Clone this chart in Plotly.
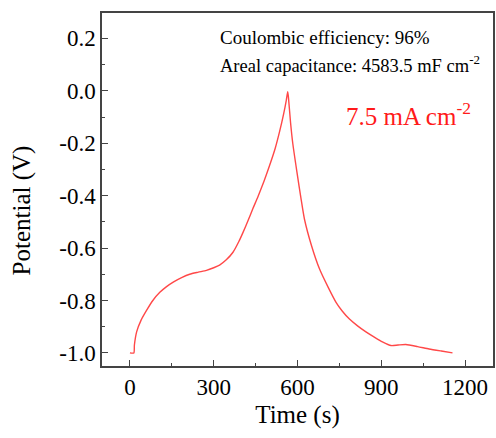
import plotly.graph_objects as go

time_s = [0, 14, 16, 24, 40, 60, 82, 107, 130, 155, 185, 214, 245, 274, 300, 321, 345, 369,
          390, 405, 423, 440, 458, 480, 500, 520, 536, 550, 560, 565,
          568, 575, 583, 598, 613, 625, 650, 679, 710, 738, 760, 786, 815, 845, 875, 904, 935,
          960, 988, 1030, 1071, 1115, 1155]
potential_v = [-1.0, -1.0, -0.97, -0.92, -0.875, -0.837, -0.80, -0.769, -0.748, -0.73, -0.713,
               -0.700, -0.692, -0.685, -0.675, -0.665, -0.645, -0.616,
               -0.575, -0.54, -0.495, -0.45, -0.405, -0.345, -0.285, -0.22, -0.155,
               -0.09, -0.035, -0.003,
               -0.03, -0.12, -0.2, -0.31, -0.414, -0.49, -0.59, -0.68, -0.75, -0.807, -0.84,
               -0.871, -0.897, -0.92, -0.94, -0.958, -0.972,
               -0.970, -0.968, -0.976, -0.985, -0.993, -1.0]

x_ticks = [0, 300, 600, 900, 1200]
y_ticks = [0.2, 0.0, -0.2, -0.4, -0.6, -0.8, -1.0]
y_tick_labels = ["0.2", "0.0", "-0.2", "-0.4", "-0.6", "-0.8", "-1.0"]

FONT = "Liberation Serif, Times New Roman, serif"
AX = "#444444"

X0, X1 = -100, 1300
Y0, Y1 = -1.05, 0.297


def px_to_x(px):
    return X0 + (px - 102) / 393 * (X1 - X0)


def py_to_y(py):
    return Y1 - (py - 13) / 353 * (Y1 - Y0)


fig = go.Figure()
fig.add_trace(go.Scatter(x=time_s, y=potential_v, mode="lines",
                         line=dict(color="#ff4848", width=1.4, shape="spline", smoothing=0.6),
                         showlegend=False))

fig.update_layout(
    width=496, height=438,
    margin=dict(l=102, r=1, t=13, b=72),
    paper_bgcolor="white", plot_bgcolor="white",
    font=dict(family=FONT, size=23, color="black"),
    xaxis=dict(range=[X0, X1], tickvals=x_ticks, ticks="inside", ticklen=6,
               tickcolor=AX, tickwidth=1.2, showline=True, linecolor=AX, linewidth=1.5,
               mirror=True, showgrid=False, zeroline=False,
               minor=dict(tickvals=[150, 450, 750, 1050], ticks="inside", ticklen=3, tickcolor=AX),
               title=dict(text="Time (s)", font=dict(size=25), standoff=6)),
    yaxis=dict(range=[Y0, Y1], tickvals=y_ticks, ticktext=y_tick_labels, ticks="inside",
               ticklen=6, tickcolor=AX, tickwidth=1.2, showline=True, linecolor=AX, linewidth=1.5,
               mirror=True, showgrid=False, zeroline=False,
               minor=dict(tickvals=[0.1, -0.1, -0.3, -0.5, -0.7, -0.9], ticks="inside", ticklen=3,
                          tickcolor=AX)),
)

fig.add_annotation(xref="paper", yref="paper", x=-102 / 393 + 22 / 393,
                   y=1 - (210 - 13) / 353, text="Potential (V)", textangle=-90,
                   showarrow=False, xanchor="center", yanchor="middle",
                   font=dict(family=FONT, size=25, color="black"))
fig.add_annotation(xref="x", yref="y", x=px_to_x(219), y=py_to_y(37),
                   text="Coulombic efficiency: 96%",
                   showarrow=False, xanchor="left", yanchor="middle",
                   font=dict(family=FONT, size=19, color="black"))
fig.add_annotation(xref="x", yref="y", x=px_to_x(219), y=py_to_y(64),
                   text="Areal capacitance: 4583.5 mF cm<sup>-2</sup>",
                   showarrow=False, xanchor="left", yanchor="middle",
                   font=dict(family=FONT, size=18.5, color="black"))
fig.add_annotation(xref="x", yref="y", x=px_to_x(345), y=py_to_y(114),
                   text="7.5 mA cm<sup>-2</sup>",
                   showarrow=False, xanchor="left", yanchor="middle",
                   font=dict(family=FONT, size=25, color="#ff1a1a"))

fig.write_html("out.html")
